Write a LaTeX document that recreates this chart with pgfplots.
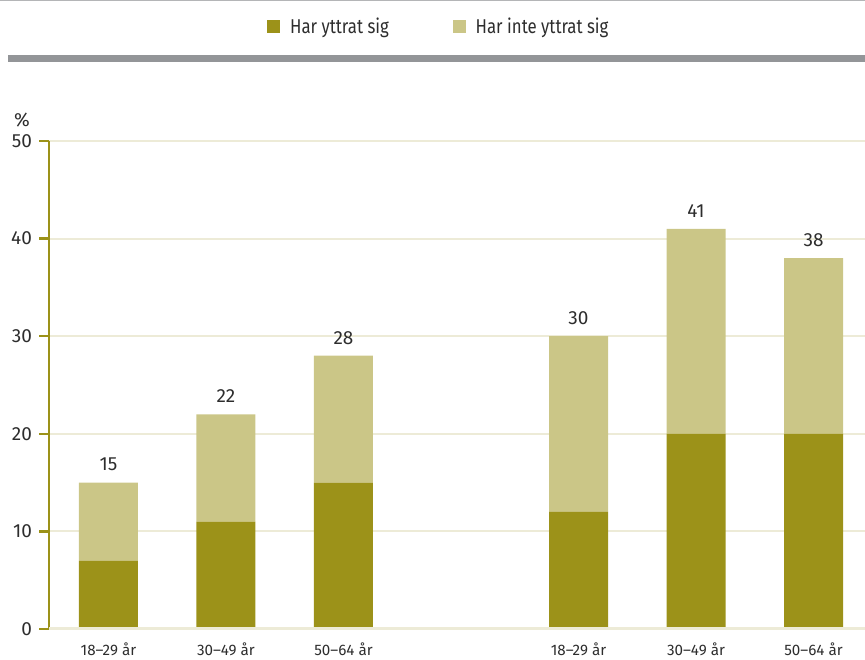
\documentclass[border=0pt]{standalone}
\usepackage{fontspec}
\setmainfont{Fira Sans}
\newfontfamily\legfont[FakeStretch=0.84]{Fira Sans}
\usepackage{pgfplots}
\pgfplotsset{compat=1.18}
\definecolor{dark}{RGB}{156,146,25}
\definecolor{light}{RGB}{203,198,135}
\definecolor{gridc}{RGB}{237,235,215}
\definecolor{barg}{RGB}{147,149,152}
\definecolor{textc}{RGB}{45,45,45}
\pgfplotsset{common/.style={scale only axis, width=408pt, height=244pt,
  xmin=-0.506, xmax=6.438, ymin=0, ymax=50,
  /pgf/number format/assume math mode=true}}
\begin{document}
\begin{tikzpicture}
\useasboundingbox (-24.5pt,-15pt) rectangle (408pt,314.5pt);
\fill[barg!70] (-24.5pt,313.8pt) rectangle (408pt,314.5pt);
\fill[barg] (-20.5pt,283.5pt) rectangle (408pt,287pt);
\node[font=\fontsize{9.5}{10}\selectfont, text=textc] at (-13.5pt,254.5pt) {\%};
\begin{axis}[
  common,
  ybar stacked, bar width=29.5pt,
  xtick={0,1,2,4,5,6},
  xticklabels={18–29 år,30–49 år,50–64 år,18–29 år,30–49 år,50–64 år},
  ytick={0,10,20,30,40,50},
  ymajorgrids, grid style={color=gridc, line width=1pt},
  axis x line*=bottom, axis y line*=left,
  x axis line style={draw=none},
  y axis line style={draw=dark, line width=1.2pt},
  major x tick style={draw=none},
  major y tick style={draw=dark, line width=1.2pt},
  tick align=outside, major tick length=5pt,
  yticklabel style={font=\fontsize{9.5}{10}\selectfont, text=textc},
  xticklabel style={font=\fontsize{7.6}{9}\selectfont, text=textc, anchor=north, inner sep=0pt, yshift=-1.5pt},
  legend style={draw=none, fill=none, legend columns=2,
    at={(0.479,1.234)}, anchor=center,
    font=\legfont\fontsize{10}{11}\selectfont, text=textc,
    /tikz/every odd column/.append style={column sep=3pt},
    /tikz/every even column/.append style={column sep=30pt}},
  legend image code/.code={\fill[#1] (0pt,-3.2pt) rectangle (6.4pt,3.2pt);},
]
\draw[gridc, line width=1.6pt] (axis cs:-0.506,0) -- (axis cs:6.438,0);
\addplot[fill=dark, draw=none] coordinates {(0,7) (1,11) (2,15) (4,12) (5,20) (6,20)};
\addlegendentry{Har yttrat sig}
\addplot[fill=light, draw=none] coordinates {(0,8) (1,11) (2,13) (4,18) (5,21) (6,18)};
\addlegendentry{Har inte yttrat sig}
\end{axis}
\begin{axis}[common, hide axis]
\addplot[draw=none, mark=none,
  nodes near coords,
  every node near coord/.append style={font=\fontsize{9.5}{10}\selectfont, text=textc, anchor=south, inner sep=0pt, yshift=5.5pt}]
  coordinates {(0,15) (1,22) (2,28) (4,30) (5,41) (6,38)};
\end{axis}
\end{tikzpicture}
\end{document}
